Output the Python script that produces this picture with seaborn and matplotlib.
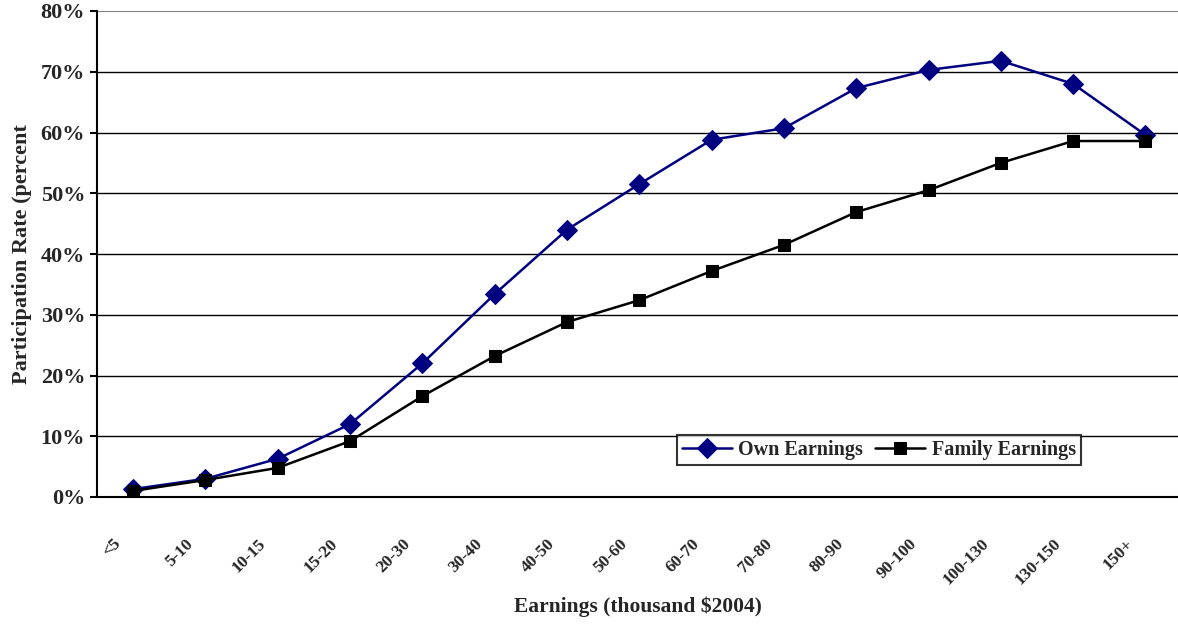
import numpy as np
import pandas as pd
import matplotlib
matplotlib.use("Agg")
import matplotlib.pyplot as plt
import seaborn as sns

categories = ["<5", "5-10", "10-15", "15-20", "20-30", "30-40", "40-50", "50-60",
              "60-70", "70-80", "80-90", "90-100", "100-130", "130-150", "150+"]
own_earnings = [1.3, 3.0, 6.3, 12.0, 22.0, 33.4, 44.0, 51.5, 58.8, 60.7, 67.3, 70.3, 71.8, 68.0, 59.6]
family_earnings = [1.0, 2.8, 4.8, 9.2, 16.6, 23.2, 28.8, 32.4, 37.2, 41.5, 46.9, 50.5, 55.0, 58.6, 58.6]
y_ticks = [0, 10, 20, 30, 40, 50, 60, 70, 80]

sns.set_theme(style="white")
plt.rcParams["font.family"] = ["Liberation Serif", "DejaVu Serif"]
plt.rcParams["font.weight"] = "bold"

pos = np.arange(len(categories))
df = pd.DataFrame({"pos": np.concatenate([pos, pos]),
                   "rate": own_earnings + family_earnings,
                   "series": ["Own Earnings"] * len(pos) + ["Family Earnings"] * len(pos)})

fig = plt.figure(figsize=(11.78, 6.24), dpi=100)
ax = fig.add_axes([97 / 1178, 1 - 497 / 624, 1 - 97 / 1178, (497 - 11) / 624])

sns.lineplot(data=df, x="pos", y="rate", hue="series", style="series",
             palette={"Own Earnings": "#000080", "Family Earnings": "black"},
             markers={"Own Earnings": "D", "Family Earnings": "s"},
             dashes=False, markersize=9, linewidth=1.8, ax=ax)
for line in ax.lines:
    if line.get_color() == "black":
        line.set_markerfacecolor("black")
        line.set_markeredgecolor("black")
    else:
        line.set_markerfacecolor("#000080")
        line.set_markeredgecolor("#000080")
        line.set_markersize(10)

ax.set_xlim(-0.5, 14.45)
ax.set_ylim(0, 80)
ax.set_yticks(y_ticks)
ax.set_yticklabels([f"{t}%" for t in y_ticks], fontsize=16, fontweight="bold")
for t in y_ticks[1:-1]:
    ax.axhline(t, color="black", linewidth=1, zorder=0)
ax.axhline(80, color="#808080", linewidth=1.5, zorder=0)

# labels sit a bit left of the category centre, ticks at category boundaries
ax.set_xticks(pos - 0.28)
ax.set_xticklabels(categories, rotation=45, ha="right", rotation_mode="anchor",
                   fontsize=12.5, fontweight="bold")
ax.set_xticks(list(pos - 0.5), minor=True)
ax.tick_params(axis="x", which="major", length=0, pad=28)
ax.tick_params(axis="x", which="minor", length=5, width=1.5, color="black", direction="out")
ax.tick_params(axis="y", length=5, width=1.5, color="black", direction="out", left=True)

for side in ["top", "right"]:
    ax.spines[side].set_visible(False)
for side in ["left", "bottom"]:
    ax.spines[side].set_color("black")
    ax.spines[side].set_linewidth(1.5)

ax.set_xlabel("Earnings (thousand $2004)", fontsize=15.5, fontweight="bold", labelpad=6)
ax.set_ylabel("Participation Rate (percent", fontsize=16, fontweight="bold", labelpad=6)

leg = ax.legend(loc="lower left", bbox_to_anchor=(0.527, 0.045), ncol=2, frameon=True,
                fancybox=False, edgecolor="black", fontsize=14.5, handlelength=2.5,
                columnspacing=0.6, handletextpad=0.3, borderpad=0.25)
leg.get_frame().set_linewidth(1.5)
for text in leg.get_texts():
    text.set_fontweight("bold")

fig.savefig("out.png", dpi=100)
